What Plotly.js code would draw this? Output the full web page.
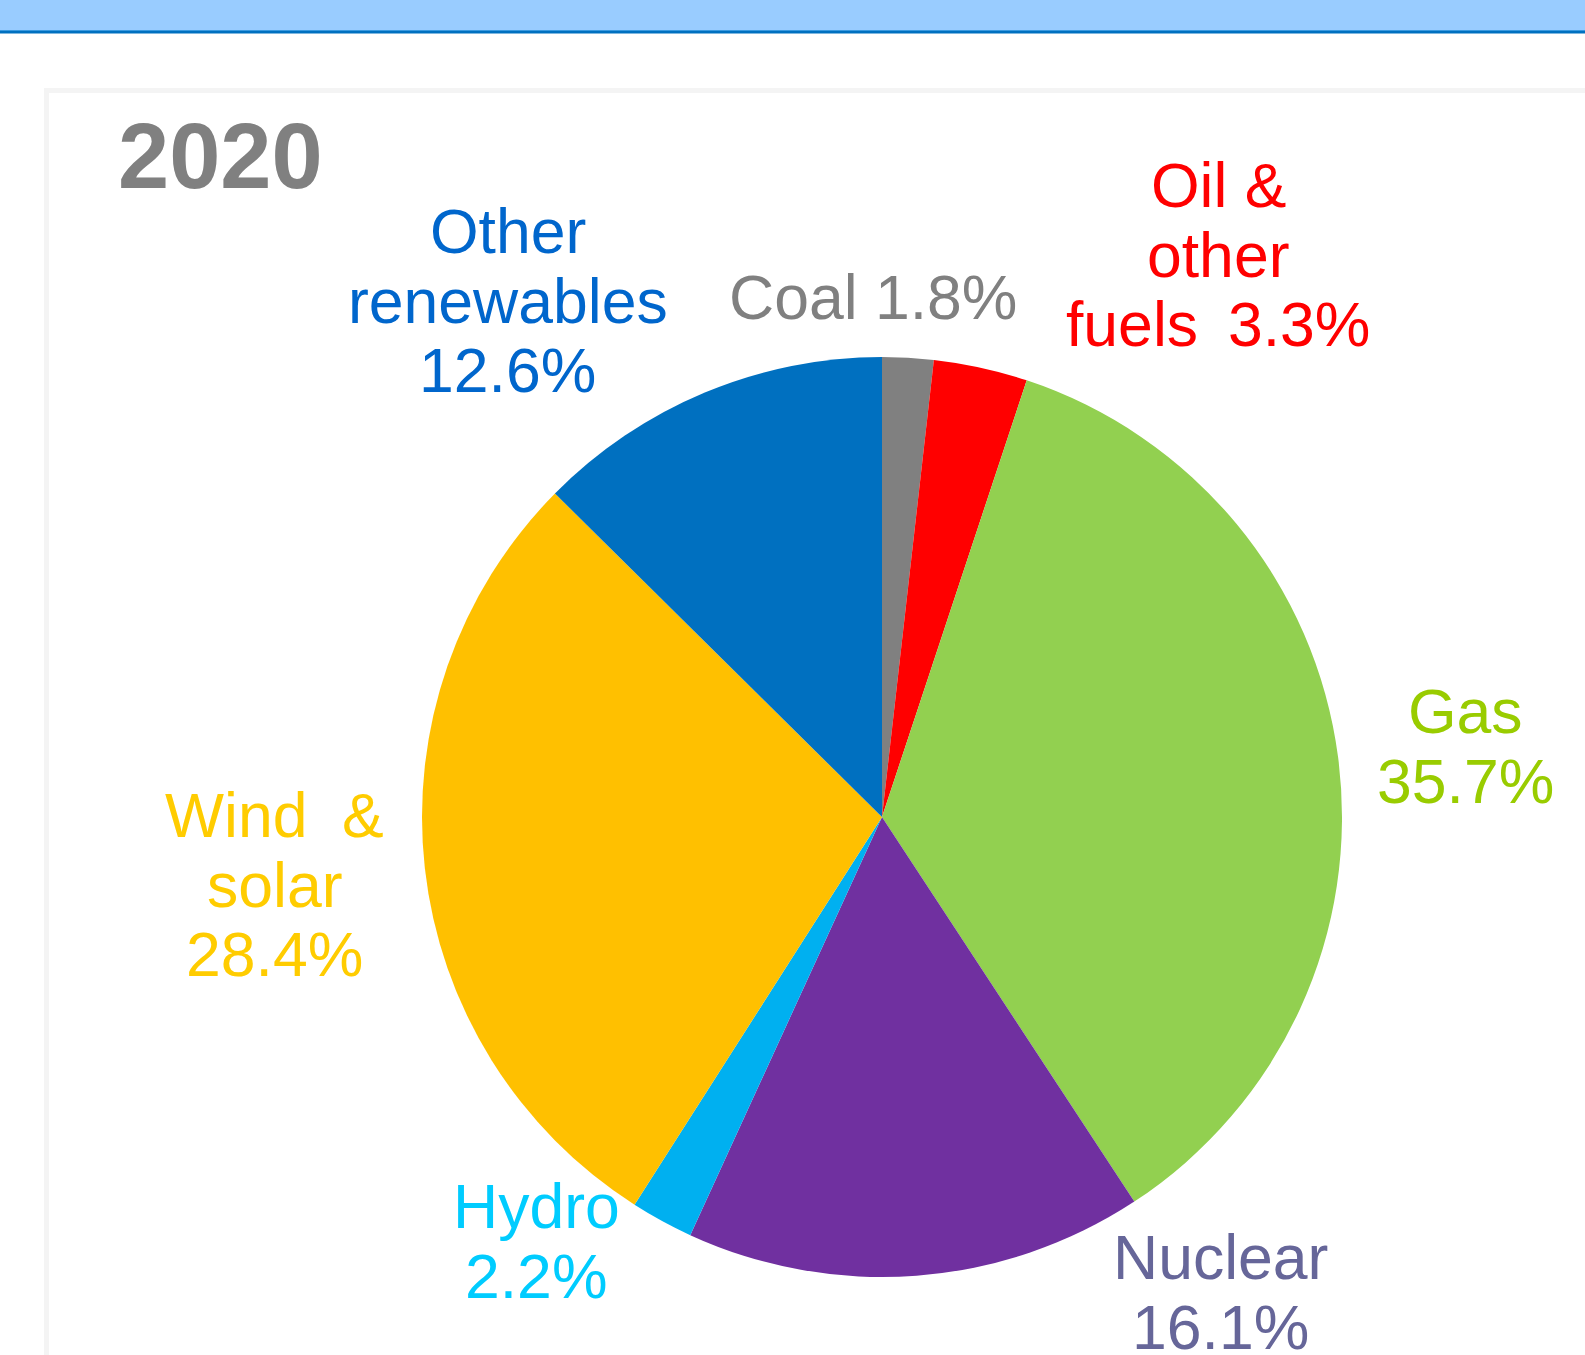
<!DOCTYPE html>
<html>
<head>
<meta charset="utf-8">
<script src="https://cdn.plot.ly/plotly-3.0.1.min.js"></script>
<style>
html,body{margin:0;padding:0;background:#fff;}
#chart{width:1585px;height:1355px;}
</style>
</head>
<body>
<div id="chart"></div>
<script>
// ---- data ----
const year = "2020";
const fuels = ["Coal", "Oil & other fuels", "Gas", "Nuclear", "Hydro", "Wind & solar", "Other renewables"];
const shares = [1.8, 3.3, 35.7, 16.1, 2.2, 28.4, 12.6];
const sliceColors = ["#808080", "#FF0000", "#92D050", "#7030A0", "#00B0F0", "#FFC000", "#0070C0"];
const labelColors = ["#808080", "#FF0000", "#99CC00", "#666699", "#00CCFF", "#FFCC00", "#0066CC"];

// ---- layout helpers (pixel -> paper) ----
const W = 1585, H = 1355;
const px = x => x / W;
const py = y => 1 - y / H;
const FS = 62.5;
const NB = "\u00a0";

function pct(i) { return shares[i].toFixed(1) + "%"; }

// label lines: [text lines], centre x, first baseline, slice index
const labelDefs = [
  { i: 0, lines: [fuels[0] + " " + pct(0)], cx: 873, b0: 319 },
  { i: 1, lines: ["Oil &", "other", "fuels" + NB + "\u2009" + pct(1)], cx: 1218, b0: 207 },
  { i: 2, lines: [fuels[2], pct(2)], cx: 1465, b0: 733 },
  { i: 3, lines: [fuels[3], pct(3)], cx: 1220, b0: 1279 },
  { i: 4, lines: [fuels[4], pct(4)], cx: 536, b0: 1228 },
  { i: 5, lines: ["Wind" + NB + NB + "&", "solar", pct(5)], cx: 274, b0: 837 },
  { i: 6, lines: ["Other", "renewables", pct(6)], cx: 508, b0: 253 }
];
const PITCH = 69.5;

const annotations = [];
labelDefs.forEach(d => {
  d.lines.forEach((t, k) => {
    const base = d.b0 + k * PITCH;
    annotations.push({
      text: t, showarrow: false, xref: "paper", yref: "paper",
      x: px(d.cx), y: py(base - 0.3465 * FS), xanchor: "center", yanchor: "middle",
      font: { family: "Liberation Sans, Arial, sans-serif", size: FS, color: labelColors[d.i] }
    });
  });
});
annotations.push({
  text: "<b>" + year + "</b>", showarrow: false, xref: "paper", yref: "paper",
  x: px(116), y: py(188 - 0.3465 * 92), xanchor: "left", yanchor: "middle",
  font: { family: "Liberation Sans, Arial, sans-serif", size: 92, color: "#808080" }
});

const shapes = [
  { type: "rect", xref: "paper", yref: "paper", x0: px(-5), x1: px(W + 5), y0: py(30), y1: py(-5), fillcolor: "#99CCFF", line: { width: 0 }, layer: "below" },
  { type: "rect", xref: "paper", yref: "paper", x0: px(-5), x1: px(W + 5), y0: py(31), y1: py(30), fillcolor: "#3A9AE0", line: { width: 0 }, layer: "below" },
  { type: "rect", xref: "paper", yref: "paper", x0: px(-5), x1: px(W + 5), y0: py(33.5), y1: py(31), fillcolor: "#0070C0", line: { width: 0 }, layer: "below" },
  { type: "rect", xref: "paper", yref: "paper", x0: px(46.5), x1: px(W + 40), y0: py(H + 40), y1: py(90.5), fillcolor: "rgba(0,0,0,0)", line: { width: 5, color: "#F4F4F4" }, layer: "below" }
];

const cx = 882, cy = 817, r = 460;
const trace = {
  type: "pie",
  labels: fuels,
  values: shares,
  sort: false,
  direction: "clockwise",
  rotation: 0,
  textinfo: "none",
  hoverinfo: "skip",
  marker: { colors: sliceColors, line: { width: 0 } },
  domain: { x: [px(cx - r), px(cx + r)], y: [py(cy + r), py(cy - r)] }
};

const layout = {
  width: W, height: H,
  margin: { l: 0, r: 0, t: 0, b: 0, pad: 0 },
  paper_bgcolor: "#FFFFFF",
  showlegend: false,
  hovermode: false,
  annotations: annotations,
  shapes: shapes
};

Plotly.newPlot("chart", [trace], layout, { staticPlot: true, displayModeBar: false });
</script>
</body>
</html>
